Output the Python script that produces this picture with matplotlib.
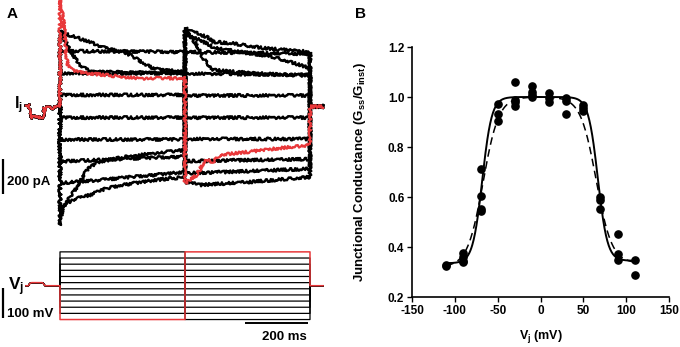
import numpy as np
import matplotlib.pyplot as plt

plt.rcParams['font.family'] = ['Liberation Sans', 'DejaVu Sans']
plt.rcParams['font.weight'] = 'bold'
plt.rcParams['axes.unicode_minus'] = False
plt.rcParams['mathtext.fontset'] = 'custom'
plt.rcParams['mathtext.rm'] = 'Liberation Sans:bold'
plt.rcParams['mathtext.it'] = 'Liberation Sans:bold'
plt.rcParams['mathtext.bf'] = 'Liberation Sans:bold'
plt.rcParams['mathtext.default'] = 'rm'

RED = '#e8383a'

# ---- panel A data: time in ms, current in pA, voltage in mV ----
pre_t = [-109, -98, -97, -51, -50, -22, -21, 0]
pre_i = [5, 5, -60, -60, -8, -8, 2, 0]
post_t = [800, 842]
post_i = [0, 0]

vpre_t = [-109, -101, -97, -91, -57, -53, -48, 0]
vpre_v = [0, 0, 7, 10, 10, 7, 0, 0]

# current traces during the 800 ms pulse, named by first-half Vj
tr_m110 = [(0, 607), (4, 560), (13, 465), (19, 294), (26, 237), (38, 208), (80, 191),
           (198, 170), (256, 160), (400, 162),
           (400, -436), (416, -419), (438, -390), (458, -322), (470, -305), (490, -316),
           (512, -276), (598, -259), (704, -237), (800, -220)]
tr_m90 = [(0, 430), (6, 419), (26, 339), (48, 276), (70, 225), (102, 197), (400, 191),
          (400, -430), (448, -447), (608, -430), (800, -402)]
tr_m70 = [(0, 425), (48, 396), (96, 368), (144, 333), (186, 316), (224, 294), (272, 242),
          (304, 214), (400, 197),
          (400, -380), (500, -375), (800, -355)]
tr_m50 = [(0, 316), (400, 311), (400, -311), (800, -300)]
tr_m30 = [(0, 190), (400, 188), (400, -185), (800, -185)]
tr_m10 = [(0, 66), (400, 66), (400, -63), (800, -63)]
tr_p10 = [(0, -63), (400, -63), (400, 63), (800, 63)]
tr_p30 = [(0, -188), (400, -188), (400, 188), (800, 180)]
tr_p50 = [(0, -313), (400, -285), (400, 311), (800, 300)]
tr_p70 = [(0, -436), (128, -419), (400, -373),
          (400, 408), (448, 379), (496, 333), (576, 311), (672, 288), (736, 254), (800, 219)]
tr_p90 = [(0, -564), (6, -573), (38, -533), (96, -504), (144, -470), (198, -447),
          (304, -419), (400, -402),
          (400, 447), (426, 425), (470, 396), (490, 368), (544, 362), (650, 333), (800, 311)]
tr_p110 = [(0, -675), (6, -601), (26, -533), (48, -476), (70, -408), (90, -351),
           (122, -316), (224, -282), (400, -248),
           (400, 436), (422, 390), (438, 351), (448, 311), (458, 276), (470, 248),
           (490, 208), (608, 191), (800, 174)]

black_traces = [tr_m90, tr_m70, tr_m50, tr_m30, tr_m10, tr_p10,
                tr_p30, tr_p50, tr_p70, tr_p90, tr_p110]
red_trace = tr_m110

step_levels = [-110, -90, -70, -50, -30, -10, 10, 30, 50, 70, 90, 110]

# ---- panel B data ----
vj_pts = [-110, -110, -90, -90, -90, -90, -70, -70, -70, -70, -50, -50, -50,
          -30, -30, -30, -30, -10, -10, -10, -10, 10, 10, 10, 30, 30, 30,
          50, 50, 50, 70, 70, 70, 90, 90, 90, 110, 110]
g_pts = [0.33, 0.325, 0.375, 0.36, 0.345, 0.34, 0.713, 0.604, 0.553, 0.544,
         0.971, 0.933, 0.904, 1.06, 0.989, 0.98, 0.963, 1.043, 1.02, 1.01, 1.0,
         1.017, 0.997, 0.98, 0.997, 0.984, 0.933, 0.969, 0.957, 0.943,
         0.6, 0.587, 0.551, 0.453, 0.373, 0.347, 0.349, 0.287]

# Boltzmann fit parameters (negative side, positive side)
solid_gmin = (0.335, 0.345)
solid_v0 = (-68, 67)
solid_a = 0.18
dash_gmin = (0.32, 0.335)
dash_v0 = (-67, 65)
dash_a = 0.11


def boltzmann(v, gmin, v0, a):
    v = np.asarray(v, dtype=float)
    neg = gmin[0] + (1 - gmin[0]) / (1 + np.exp(a * (v0[0] - v)))
    pos = gmin[1] + (1 - gmin[1]) / (1 + np.exp(a * (v - v0[1])))
    return np.where(v < 0, neg, pos)


fig = plt.figure(figsize=(6.8, 3.47), dpi=100)
W, H = 680.0, 347.0

# current traces
axI = fig.add_axes([0, 1 - 232 / H, 340 / W, 232 / H])
axI.set_xlim(-192, 896)
axI.set_ylim(-715, 607)
axI.axis('off')


def full_path(tr):
    t = pre_t + [p[0] for p in tr] + post_t
    i = pre_i + [p[1] for p in tr] + post_i
    return t, i


NOISE = (1.4, 1.0, 2)  # sketch style to mimic recording noise
for tr in black_traces:
    t, i = full_path(tr)
    ln, = axI.plot(t, i, color='black', lw=1.7)
    ln.set_sketch_params(*NOISE)
t, i = full_path(red_trace)
ln, = axI.plot(t, i, color=RED, lw=1.6)
ln.set_sketch_params(*NOISE)

# 200 pA scale bar
axI.plot([-181, -181], [-499, -299], color='black', lw=1.6, solid_capstyle='butt')

# voltage steps
axV = fig.add_axes([0, 0, 340 / W, 107 / H])
axV.set_xlim(-192, 896)
axV.set_ylim(-199.3, 148.6)
axV.axis('off')
for v1 in step_levels:
    if v1 == -110:
        continue
    t = vpre_t + [0, 400, 400, 800, 800, 842]
    v = vpre_v + [v1, v1, -v1, -v1, 0, 0]
    axV.plot(t, v, color='black', lw=0.9)
axV.plot(vpre_t + [0, 400, 400, 800, 800, 842],
         vpre_v + [-110, -110, 110, 110, 0, 0], color=RED, lw=1.1)
axV.plot([-183, -183], [-106, -6], color='black', lw=1.6, solid_capstyle='butt')
axV.plot([592, 792], [-120, -120], color='black', lw=1.4, solid_capstyle='butt')


def ftext(x, y, s, size, **kw):
    fig.text(x / W, 1 - y / H, s, fontsize=size, fontweight='bold', va='baseline', **kw)


ftext(7, 18, 'A', 11)
ftext(355, 18, 'B', 11)
ftext(14, 108, 'I$_{j}$', 11.5)
ftext(7, 185, '200 pA', 9.5)
ftext(8, 290, 'V$_{j}$', 12.5)
ftext(7, 317, '100 mV', 9.5)
ftext(262, 340, '200 ms', 9.5)

# panel B
axB = fig.add_axes([412 / W, 1 - 297 / H, 257 / W, 250 / H])
vv = np.linspace(-110, 110, 400)
axB.plot(vv, boltzmann(vv, solid_gmin, solid_v0, solid_a), color='black', lw=1.4)
axB.plot(vv, boltzmann(vv, dash_gmin, dash_v0, dash_a), color='black', lw=1.1,
         dashes=(5, 3))
axB.plot(vj_pts, g_pts, 'o', color='black', ms=5.2)
axB.set_xlim(-150, 150)
axB.set_ylim(0.2, 1.2)
axB.set_xticks([-150, -100, -50, 0, 50, 100, 150])
axB.set_yticks([0.2, 0.4, 0.6, 0.8, 1.0, 1.2])
axB.set_yticklabels(['0.2', '0.4', '0.6', '0.8', '1.0', '1.2'])
for s in ['top', 'right']:
    axB.spines[s].set_visible(False)
for s in ['left', 'bottom']:
    axB.spines[s].set_linewidth(1.2)
axB.tick_params(direction='out', length=3.5, width=1.0, labelsize=8.5, pad=2)
for lab in axB.get_xticklabels() + axB.get_yticklabels():
    lab.set_fontweight('bold')
axB.set_ylabel('Junctional Conductance (G$_{ss}$/G$_{inst}$)', fontsize=9.5, fontweight='bold')
axB.yaxis.set_label_coords(-0.171, 0.5)
axB.set_xlabel('V$_{j}$ (mV)', fontsize=9, fontweight='bold')
axB.xaxis.set_label_coords(0.5, -0.125)

fig.savefig('out.png', dpi=100)
